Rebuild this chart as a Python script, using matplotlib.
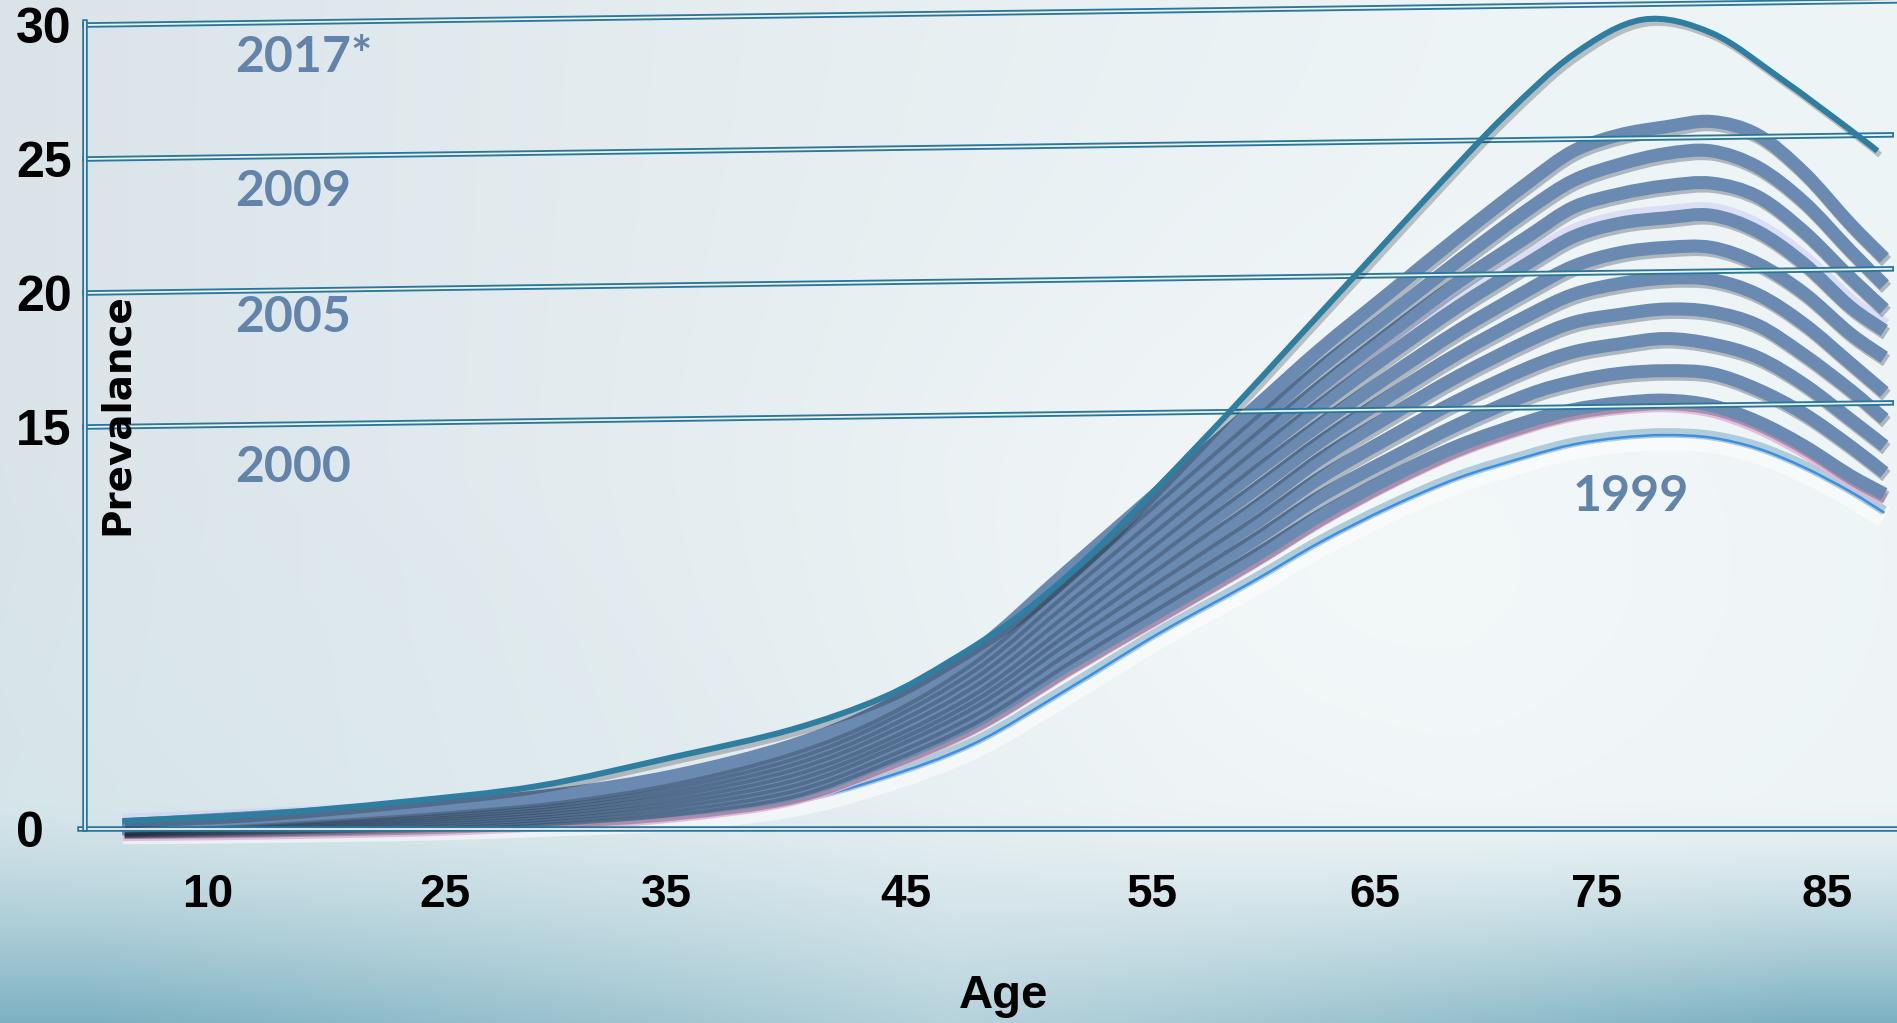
import numpy as np
import matplotlib
matplotlib.use("Agg")
import matplotlib.pyplot as plt
import matplotlib.patheffects as pe
from matplotlib.colors import to_rgb
from matplotlib.path import Path
from matplotlib.patches import PathPatch

# ---- data: prevalence (%) by age, one curve per survey year ----
ages = [11, 15, 20, 25, 30, 35, 40, 44, 48, 52, 56, 60, 63, 66, 69, 72,
        74, 76, 78, 80, 82, 84, 86, 87.5]

prev_1999 = [0.0, 0.02, 0.08, 0.15, 0.3, 0.5, 1.0, 1.9, 3.2, 5.2, 7.3, 9.2,
             10.7, 12.0, 13.1, 13.9, 14.35, 14.6, 14.7, 14.6, 14.2, 13.5, 12.6, 11.8]
prev_2000 = [0.0, 0.03, 0.1, 0.2, 0.4, 0.7, 1.3, 2.5, 4.0, 6.1, 8.1, 10.1,
             11.7, 13.1, 14.3, 15.2, 15.65, 15.9, 16.0, 15.8, 15.2, 14.3, 13.2, 12.5]
prev_2001 = [0.02, 0.06, 0.15, 0.28, 0.5, 0.85, 1.5, 2.74, 4.3, 6.5, 8.6, 10.7,
             12.4, 13.8, 15.1, 16.2, 16.7, 17.0, 17.1, 17.0, 16.4, 15.5, 14.3, 13.3]
prev_2002 = [0.03, 0.1, 0.21, 0.35, 0.6, 0.99, 1.7, 2.96, 4.6, 6.9, 9.1, 11.3,
             13.1, 14.6, 16.0, 17.2, 17.8, 18.1, 18.3, 18.1, 17.6, 16.6, 15.3, 14.3]
prev_2003 = [0.05, 0.13, 0.26, 0.43, 0.7, 1.14, 1.9, 3.2, 4.9, 7.3, 9.6, 11.9,
             13.8, 15.4, 16.9, 18.2, 18.9, 19.2, 19.4, 19.3, 18.8, 17.7, 16.4, 15.3]
prev_2004 = [0.07, 0.17, 0.32, 0.51, 0.8, 1.28, 2.1, 3.4, 5.15, 7.65, 10.1, 12.55,
             14.45, 16.15, 17.75, 19.15, 19.95, 20.35, 20.55, 20.5, 19.95, 18.85, 17.4, 16.3]
prev_2005 = [0.08, 0.21, 0.38, 0.59, 0.9, 1.42, 2.3, 3.6, 5.4, 8.0, 10.6, 13.2,
             15.1, 16.9, 18.6, 20.1, 21.0, 21.5, 21.7, 21.7, 21.1, 20.0, 18.5, 17.6]
prev_2006 = [0.1, 0.24, 0.43, 0.67, 1.0, 1.57, 2.5, 3.84, 5.7, 8.4, 11.1, 13.8,
             15.8, 17.7, 19.5, 21.1, 22.1, 22.6, 22.8, 22.9, 22.3, 21.1, 19.5, 18.6]
prev_2007 = [0.12, 0.28, 0.49, 0.74, 1.1, 1.71, 2.7, 4.06, 6.0, 8.8, 11.6, 14.4,
             16.5, 18.5, 20.4, 22.1, 23.2, 23.7, 24.0, 24.1, 23.6, 22.3, 20.6, 19.4]
prev_2008 = [0.13, 0.31, 0.54, 0.82, 1.2, 1.86, 2.9, 4.3, 6.3, 9.2, 12.1, 15.0,
             17.2, 19.2, 21.2, 23.1, 24.2, 24.8, 25.2, 25.3, 24.7, 23.4, 21.6, 20.3]
prev_2009 = [0.15, 0.35, 0.6, 0.9, 1.3, 2.0, 3.1, 4.5, 6.6, 9.6, 12.6, 15.6,
             17.9, 20.0, 22.1, 24.1, 25.3, 25.9, 26.2, 26.4, 25.9, 24.5, 22.6, 21.3]

ages_2017 = [11, 17, 23, 29, 35, 40, 44, 47, 50, 53, 56, 59, 62, 65, 68, 71,
             74, 77, 80, 83, 86, 87.2]
prev_2017 = [0.3, 0.55, 1.0, 1.6, 2.7, 3.7, 4.9, 6.3, 8.0, 10.2, 12.8, 15.5,
             18.3, 21.1, 23.9, 26.6, 28.9, 30.2, 29.7, 28.0, 26.1, 25.3]

# slate curves, drawn bottom to top
slate_years = [2000, 2001, 2002, 2003, 2004, 2005, 2006, 2007, 2008, 2009]
slate_values = [prev_2000, prev_2001, prev_2002, prev_2003, prev_2004,
                prev_2005, prev_2006, prev_2007, prev_2008, prev_2009]

y_ticks = [0, 15, 20, 25, 30]
x_tick_labels = ["10", "25", "35", "45", "55", "65", "75", "85"]
x_tick_pos = [14.7, 25, 34.6, 45, 55.7, 65.4, 75, 85]

year_labels = ["2017*", "2009", "2005", "2000"]
year_label_y = [28.8, 23.8, 19.1, 13.5]

W, H, DPI = 1897, 1023, 100
GRID = "#2b7799"
SLATE = "#6a8ab1"
TEAL = "#2e7ea2"
LABEL = "#6284ab"
AXFONT = ["Liberation Sans", "DejaVu Sans"]


def blend(a, b, t):
    return a * (1 - t[..., None]) + np.array(to_rgb(b)) * t[..., None]


def background(fig):
    ny, nx = 256, 474
    yy, xx = np.mgrid[0:1:ny * 1j, 0:1:nx * 1j]
    img = np.ones((ny, nx, 3)) * np.array(to_rgb("#d9e3e8"))
    img = blend(img, "#edf4f6", np.clip(xx * 1.3, 0, 1) ** 0.8)
    glow = np.exp(-((xx - 0.72) ** 2 / 0.06 + (yy - 0.55) ** 2 / 0.10))
    img = blend(img, "#f5f9fa", 0.7 * glow)
    tint = np.clip((yy - 0.45) / 0.4, 0, 1) * np.clip(1 - xx * 1.6, 0, 1)
    img = blend(img, "#d3e7ec", 0.6 * tint)
    band = np.clip((yy - 0.78) / 0.22, 0, 1) ** 1.4
    edge = 0.45 + 0.55 * np.clip(np.abs(xx - 0.50) * 2.2, 0, 1)
    img = blend(img, "#7db1c2", band * edge)

    bg = fig.add_axes([0, 0, 1, 1], zorder=-10)
    bg.imshow(img, extent=[0, 1, 0, 1], aspect="auto", interpolation="bilinear")
    bg.axis("off")


def smooth_path(x, y):
    # Catmull-Rom through the points, written as cubic Bezier segments
    pts = np.column_stack([x, y]).astype(float)
    n = len(pts)
    verts, codes = [pts[0]], [Path.MOVETO]
    for i in range(n - 1):
        p0, p1 = pts[max(i - 1, 0)], pts[i]
        p2, p3 = pts[i + 1], pts[min(i + 2, n - 1)]
        verts += [p1 + (p2 - p0) / 6, p2 - (p3 - p1) / 6, p2]
        codes += [Path.CURVE4] * 3
    return Path(verts, codes)


def draw_curve(ax, x, y, color, lw, effects, zorder):
    patch = PathPatch(smooth_path(x, y), fill=False, edgecolor=color, lw=lw,
                      capstyle="butt", joinstyle="round", clip_on=False,
                      zorder=zorder, path_effects=effects)
    ax.add_patch(patch)


def main():
    fig = plt.figure(figsize=(W / DPI, H / DPI), dpi=DPI)
    background(fig)

    # plot area: y-axis at x=85px, zero line at y=829px
    ax = fig.add_axes([85 / W, (H - 829) / H, (W - 85) / W, 829 / H])
    x0, x1 = 9.37, 88.05
    ax.set_xlim(x0, x1)
    ax.set_ylim(0, 829 / 26.8)
    ax.patch.set_visible(False)
    for s in ax.spines.values():
        s.set_visible(False)

    # double-rule grid, slightly tilted
    double = [pe.Stroke(linewidth=4.0, foreground=GRID),
              pe.Stroke(linewidth=1.3, foreground="#eaf3f6")]
    for v in y_ticks[1:]:
        end = x1 if v == 30 else 87.8
        ax.plot([x0, end], [v, v + 0.9], color=GRID, lw=4,
                path_effects=double, clip_on=False, zorder=5)
    ax.plot([x0 - 0.2, x1], [0, 0], color=GRID, lw=4,
            path_effects=double, clip_on=False, zorder=5)
    ax.plot([x0, x0], [0, 30.1], color=GRID, lw=4,
            path_effects=double, clip_on=False, zorder=5)

    # 1999: thin bright line with a pale halo
    draw_curve(ax, ages, prev_1999, "#3d8fe3", 1.8,
               [pe.Stroke(linewidth=16, foreground="white", alpha=0.55, offset=(0, -3)),
                pe.Stroke(linewidth=7, foreground="#a7c7d8", alpha=0.9, offset=(0, 1.5)),
                pe.Normal()], 2)

    for year, vals in zip(slate_years, slate_values):
        effects = []
        if year == 2000:
            effects.append(pe.SimpleLineShadow(offset=(0, -4), shadow_color="#e4b6d8", alpha=0.9))
        if year == 2006:
            effects.append(pe.Stroke(linewidth=13, foreground="#cfd0f4", alpha=0.6, offset=(0, 2.5)))
        effects += [pe.SimpleLineShadow(offset=(1.5, -2.5), shadow_color="#1c2a3c", alpha=0.3),
                    pe.Normal()]
        draw_curve(ax, ages, vals, SLATE, 9.4, effects, 3)

    draw_curve(ax, ages_2017, prev_2017, TEAL, 4.3,
               [pe.SimpleLineShadow(offset=(2, -3), alpha=0.22), pe.Normal()], 6)

    # year labels
    for txt, y in zip(year_labels, year_label_y):
        ax.text(15.9, y, txt, ha="left", va="center", fontsize=36,
                fontweight="bold", family="Lato", color=LABEL, zorder=7)
    ax.text(76.5, 12.4, "1999", ha="center", va="center", fontsize=36,
            fontweight="bold", family="Lato", color=LABEL, zorder=7)

    # ticks
    ax.set_yticks(y_ticks)
    ax.set_yticklabels([str(v) for v in y_ticks], fontsize=36,
                       fontweight="bold", family=AXFONT, ha="left")
    ax.set_xticks(x_tick_pos)
    ax.set_xticklabels(x_tick_labels, fontsize=33, fontweight="bold", family=AXFONT)
    ax.tick_params(axis="y", length=0, pad=49.7, colors="black")
    ax.tick_params(axis="x", length=0, pad=32, colors="black")

    ax.text(32 / 1812, 0.5, "Prevalance", transform=ax.transAxes, rotation=90,
            ha="center", va="center", fontsize=28, fontweight="bold",
            family="DejaVu Sans", color="black", zorder=7)
    fig.text(1004 / W, 1 - 996 / H, "Age", ha="center", va="center",
             fontsize=34, fontweight="bold", family=AXFONT, color="black")

    fig.savefig("out.png", dpi=DPI)


if __name__ == "__main__":
    main()
